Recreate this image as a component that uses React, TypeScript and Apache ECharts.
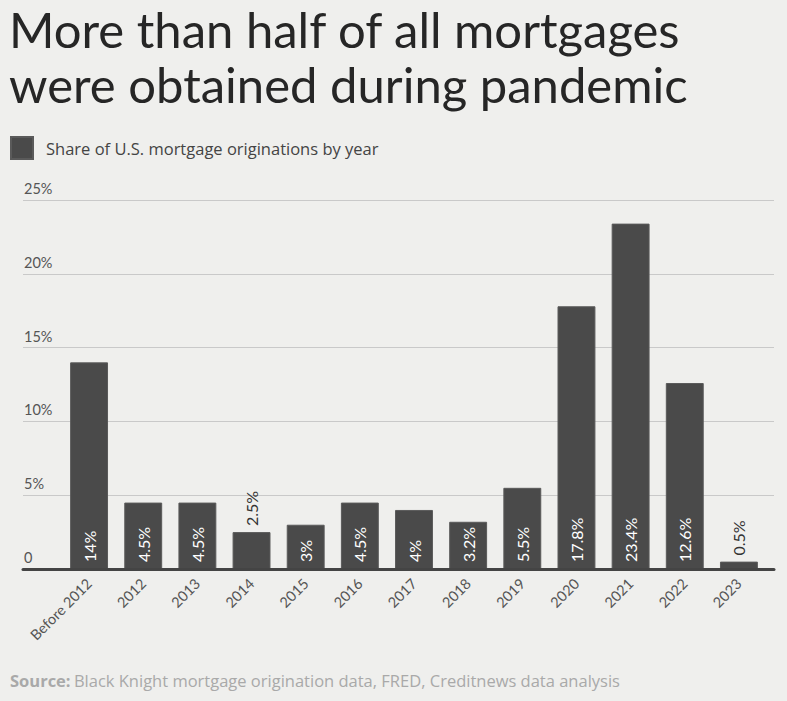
import React, { useEffect, useRef } from "react";
import * as echarts from "echarts";

const categories = ["Before 2012", "2012", "2013", "2014", "2015", "2016", "2017", "2018", "2019", "2020", "2021", "2022", "2023"];
const shares = [14, 4.5, 4.5, 2.5, 3, 4.5, 4, 3.2, 5.5, 17.8, 23.4, 12.6, 0.5];
const shareLabels = ["14%", "4.5%", "4.5%", "2.5%", "3%", "4.5%", "4%", "3.2%", "5.5%", "17.8%", "23.4%", "12.6%", "0.5%"];
const labelOnTop = [false, false, false, true, false, false, false, false, false, false, false, false, true];
const yTickLabels = ["0", "5%", "10%", "15%", "20%", "25%"];
const seriesName = "Share of U.S. mortgage originations by year";
const titleLines = ["More than half of all mortgages", "were obtained during pandemic"];
const sourceText = "Black Knight mortgage origination data, FRED, Creditnews data analysis";

const FONT = "Lato, 'Open Sans', sans-serif";
const FONT2 = "'Open Sans', Lato, sans-serif";

export default function App() {
  const ref = useRef<HTMLDivElement>(null);
  useEffect(() => {
    if (!ref.current) return;
    const chart = echarts.init(ref.current, null, { renderer: "svg" });
    const data = shares.map((v, i) => ({
      value: v,
      label: labelOnTop[i]
        ? { position: "top", color: "#333", distance: 6 }
        : { position: "insideBottom", color: "#ffffff", distance: 7 },
    }));
    chart.setOption({
      animation: false,
      backgroundColor: "#efefed",
      textStyle: { fontFamily: FONT },
      graphic: [
        ...titleLines.map((t, i) => ({
          type: "text",
          left: 9,
          top: 4 + i * 55,
          style: {
            text: t,
            font: `400 49px ${FONT}`,
            lineHeight: 40,
            fill: "#262626",
          },
        })),
        {
          type: "text",
          left: 10,
          top: 672,
          style: {
            rich: {
              b: { fontWeight: 700, fill: "#a9a9a9", fontSize: 16.5, fontFamily: FONT2 },
              n: { fill: "#a9a9a9", fontSize: 16.5, fontFamily: FONT2 },
            },
            text: `{b|Source:} {n|${sourceText}}`,
          },
        },
      ],
      legend: {
        left: 10,
        top: 136,
        padding: 0,
        icon: "rect",
        itemWidth: 22,
        itemHeight: 22,
        itemGap: 16,
        data: [seriesName],
        textStyle: { fontSize: 16.5, color: "#444", fontFamily: FONT2, padding: [0, 0, 0, 8] },
      },
      grid: [
        { left: 62, right: 21, top: 200, bottom: 132 },
        { left: 23, right: 13, top: 200, bottom: 132 },
      ],
      xAxis: [
        {
          type: "category",
          gridIndex: 0,
          data: categories,
          axisLine: { show: false },
          axisTick: { show: false },
          axisLabel: { rotate: 45, fontSize: 14.5, color: "#555", margin: 12, fontFamily: FONT, interval: 0 },
        },
        {
          type: "category",
          gridIndex: 1,
          data: [""],
          axisLine: { show: true, lineStyle: { color: "#444", width: 3 } },
          axisTick: { show: false },
          axisLabel: { show: false },
          z: 5,
        },
      ],
      yAxis: [
        {
          type: "value",
          gridIndex: 0,
          min: 0,
          max: 25,
          interval: 5,
          axisLabel: { show: false },
          splitLine: { show: false },
          axisLine: { show: false },
        },
        {
          type: "value",
          gridIndex: 1,
          min: 0,
          max: 25,
          interval: 5,
          axisLine: { show: false },
          axisTick: { show: false },
          splitLine: { show: true, lineStyle: { color: "#c9c9c9", width: 1 } },
          axisLabel: {
            inside: true,
            margin: 1,
            verticalAlign: "bottom",
            align: "left",
            fontSize: 14.5,
            color: "#555",
            fontFamily: FONT,
            formatter: (v: number) => yTickLabels[Math.round(v / 5)] ?? "",
            padding: [0, 0, 4, 0],
          },
        },
      ],
      series: [
        {
          name: seriesName,
          type: "bar",
          xAxisIndex: 0,
          yAxisIndex: 0,
          data,
          barCategoryGap: "30%",
          itemStyle: { color: "#4a4a4a", borderColor: "#5a5a5a", borderWidth: 1 },
          label: {
            show: true,
            rotate: 90,
            align: "left",
            verticalAlign: "middle",
            fontSize: 16,
            fontFamily: FONT,
            formatter: (p: any) => shareLabels[p.dataIndex],
          },
          z: 3,
        },
      ],
    });
    return () => chart.dispose();
  }, []);
  return <div ref={ref} style={{ position: "fixed", left: 0, top: 0, width: 787, height: 701 }} />;
}
